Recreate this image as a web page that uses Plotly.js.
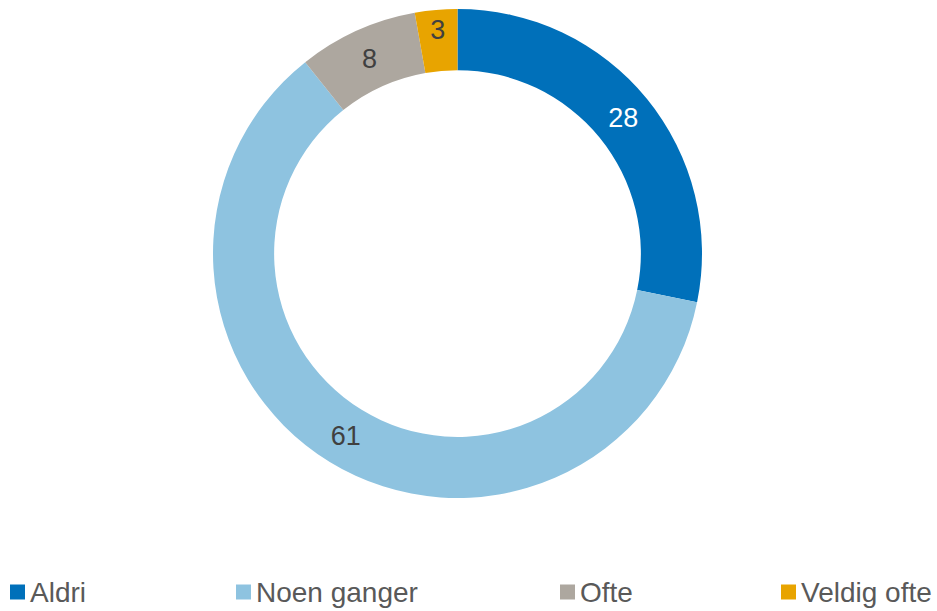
<!DOCTYPE html>
<html>
<head>
<meta charset="utf-8">
<script src="https://cdn.plot.ly/plotly-3.0.1.min.js"></script>
<style>html,body{margin:0;padding:0;background:#fff;}#chart{width:937px;height:611px;}</style>
</head>
<body>
<div id="chart"></div>
<script>
const categories = ["Aldri", "Noen ganger", "Ofte", "Veldig ofte"];
const values = [28.2, 61.1, 7.9, 2.8];
const colors = ["#0070BA", "#8EC3E0", "#ADA79F", "#E8A400"];
const labelColors = ["#FFFFFF", "#404040", "#404040", "#404040"];

const W = 937, H = 611;
const FONT = "'Liberation Sans', Arial, sans-serif";
// legend entry left edges (layout)
const legendX = [10, 236, 560, 781];
const legendYc = 592;
const sq = 15;

const trace = {
  type: "pie",
  labels: categories,
  values: values,
  sort: false,
  direction: "clockwise",
  rotation: 0,
  hole: 0.75,
  marker: { colors: colors, line: { color: "#FFFFFF", width: 0 } },
  texttemplate: "%{value:.0f}",
  textposition: "inside",
  insidetextorientation: "horizontal",
  textfont: { family: FONT, size: 27, color: labelColors },
  hoverinfo: "none",
  showlegend: false,
  domain: { x: [213 / W, 702 / W], y: [(H - 498) / H, (H - 9) / H] }
};

const shapes = [];
const annotations = [];
categories.forEach((c, i) => {
  shapes.push({
    type: "rect", xref: "paper", yref: "paper",
    x0: legendX[i] / W, x1: (legendX[i] + sq) / W,
    y0: (H - (legendYc + sq / 2)) / H, y1: (H - (legendYc - sq / 2)) / H,
    fillcolor: colors[i], line: { width: 0 }
  });
  annotations.push({
    xref: "paper", yref: "paper",
    x: (legendX[i] + sq + 4) / W, y: (H - legendYc) / H,
    xanchor: "left", yanchor: "middle",
    text: c, showarrow: false, borderpad: 0,
    font: { family: FONT, size: 28, color: "#595959" }
  });
});

const layout = {
  width: W, height: H,
  margin: { l: 0, r: 0, t: 0, b: 0 },
  paper_bgcolor: "#FFFFFF",
  plot_bgcolor: "#FFFFFF",
  showlegend: false,
  shapes: shapes,
  annotations: annotations
};

Plotly.newPlot("chart", [trace], layout, { displayModeBar: false, staticPlot: true });
</script>
</body>
</html>
